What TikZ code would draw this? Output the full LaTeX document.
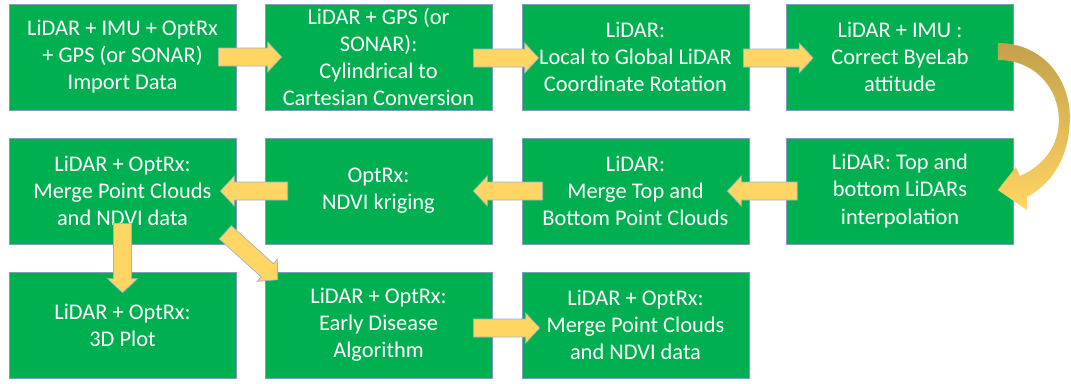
\documentclass[tikz,border=0pt]{standalone}
\usepackage{fontspec}
\setmainfont{Carlito}
\usetikzlibrary{calc}
\definecolor{boxgreen}{HTML}{00B050}
\definecolor{boxedge}{HTML}{7F9DBF}
\definecolor{arrowfill}{HTML}{FFD563}
\definecolor{arrowedge}{HTML}{9FB2CC}
\definecolor{curvetop}{HTML}{C4A04A}
\definecolor{curvebot}{HTML}{FFD563}
\tikzset{
  box/.style={draw=boxedge, line width=0.5pt, fill=boxgreen, text=white, align=center,
    minimum width=170.25pt, minimum height=79.5pt, inner sep=0pt,
    font=\fontsize{16.8pt}{20.3pt}\selectfont},
  blockarrow/.style={fill=arrowfill, draw=arrowedge, line width=0.5pt, line join=miter},
  curvearrow/.style={top color=curvetop, bottom color=curvebot, draw=none}
}
\newcommand\blockarrow[2]{%
  \coordinate (ba-s) at (#1);
  \coordinate (ba-e) at (#2);
  \coordinate (ba-h) at ($(ba-e)!10.5pt!(ba-s)$);
  \path[blockarrow] ($(ba-s)!6.75pt!90:(ba-e)$) -- ($(ba-h)!6.75pt!-90:(ba-s)$)
    -- ($(ba-h)!11.25pt!-90:(ba-s)$) -- (ba-e) -- ($(ba-h)!11.25pt!90:(ba-s)$)
    -- ($(ba-h)!6.75pt!90:(ba-s)$) -- ($(ba-s)!6.75pt!-90:(ba-e)$) -- cycle;
}
\begin{document}
\begin{tikzpicture}[x=0.75pt,y=-0.75pt]
\useasboundingbox (0,0) rectangle (1071,383);
\fill[white] (0,0) rectangle (1071,383);
% row 1
\node[box] (b1) at (122.5,57) {LiDAR + IMU + OptRx\\+ GPS (or SONAR)\\Import Data};
\node[box] (b2) at (378.5,57) {LiDAR + GPS (or\\SONAR):\\Cylindrical to\\Cartesian Conversion};
\node[box] (b3) at (635.5,57) {LiDAR:\\Local to Global LiDAR\\Coordinate Rotation};
\node[box] (b4) at (900,57) {LiDAR + IMU :\\Correct ByeLab\\attitude};
% row 2
\node[box] (b5) at (900,191) {LiDAR: Top and\\bottom LiDARs\\interpolation};
\node[box] (b6) at (635.5,191) {LiDAR:\\Merge Top and\\Bottom Point Clouds};
\node[box] (b7) at (378.5,191) {OptRx:\\NDVI kriging};
\node[box] (b8) at (122.5,191) {LiDAR + OptRx:\\Merge Point Clouds\\and NDVI data};
% row 3
\node[box] (b9) at (122.5,325) {LiDAR + OptRx:\\3D Plot};
\node[box] (b10) at (378.5,325) {LiDAR + OptRx:\\Early Disease\\Algorithm};
\node[box] (b11) at (635.5,325) {LiDAR + OptRx:\\Merge Point Clouds\\and NDVI data};
% straight block arrows
\blockarrow{$(b1.east)+(-18,0)$}{$(b2.west)+(17,0)$}
\blockarrow{$(b2.east)+(-19,1)$}{$(b3.west)+(17,1)$}
\blockarrow{$(b3.east)+(-6,1)$}{$(b4.west)+(27,1)$}
\blockarrow{$(b5.west)+(11,0)$}{$(b6.east)+(-22,0)$}
\blockarrow{$(b6.west)+(21,0)$}{$(b7.east)+(-19,0)$}
\blockarrow{$(b7.west)+(23,0)$}{$(b8.east)+(-16,0)$}
\blockarrow{$(b8.south)+(0,-21)$}{$(b9.north)+(0,21)$}
\blockarrow{$(b8.south east)+(-11,-12)$}{$(b10.north west)+(13,8)$}
\blockarrow{$(b10.east)+(-19,3)$}{$(b11.west)+(18,3)$}
% curved arrow from b4 to b5
\begin{scope}[shift={(b4.east)}]
\path[curvearrow] (-16,-14) .. controls (28,-14) and (57,21) .. (56,63)
  .. controls (55,103) and (36,128) .. (13,140) -- (13,153) -- (-16,133)
  -- (2,110) -- (6,119) .. controls (31,108) and (45,88) .. (45,63)
  .. controls (45,31) and (21,3) .. (-16,3) -- cycle;
\end{scope}
\end{tikzpicture}
\end{document}
